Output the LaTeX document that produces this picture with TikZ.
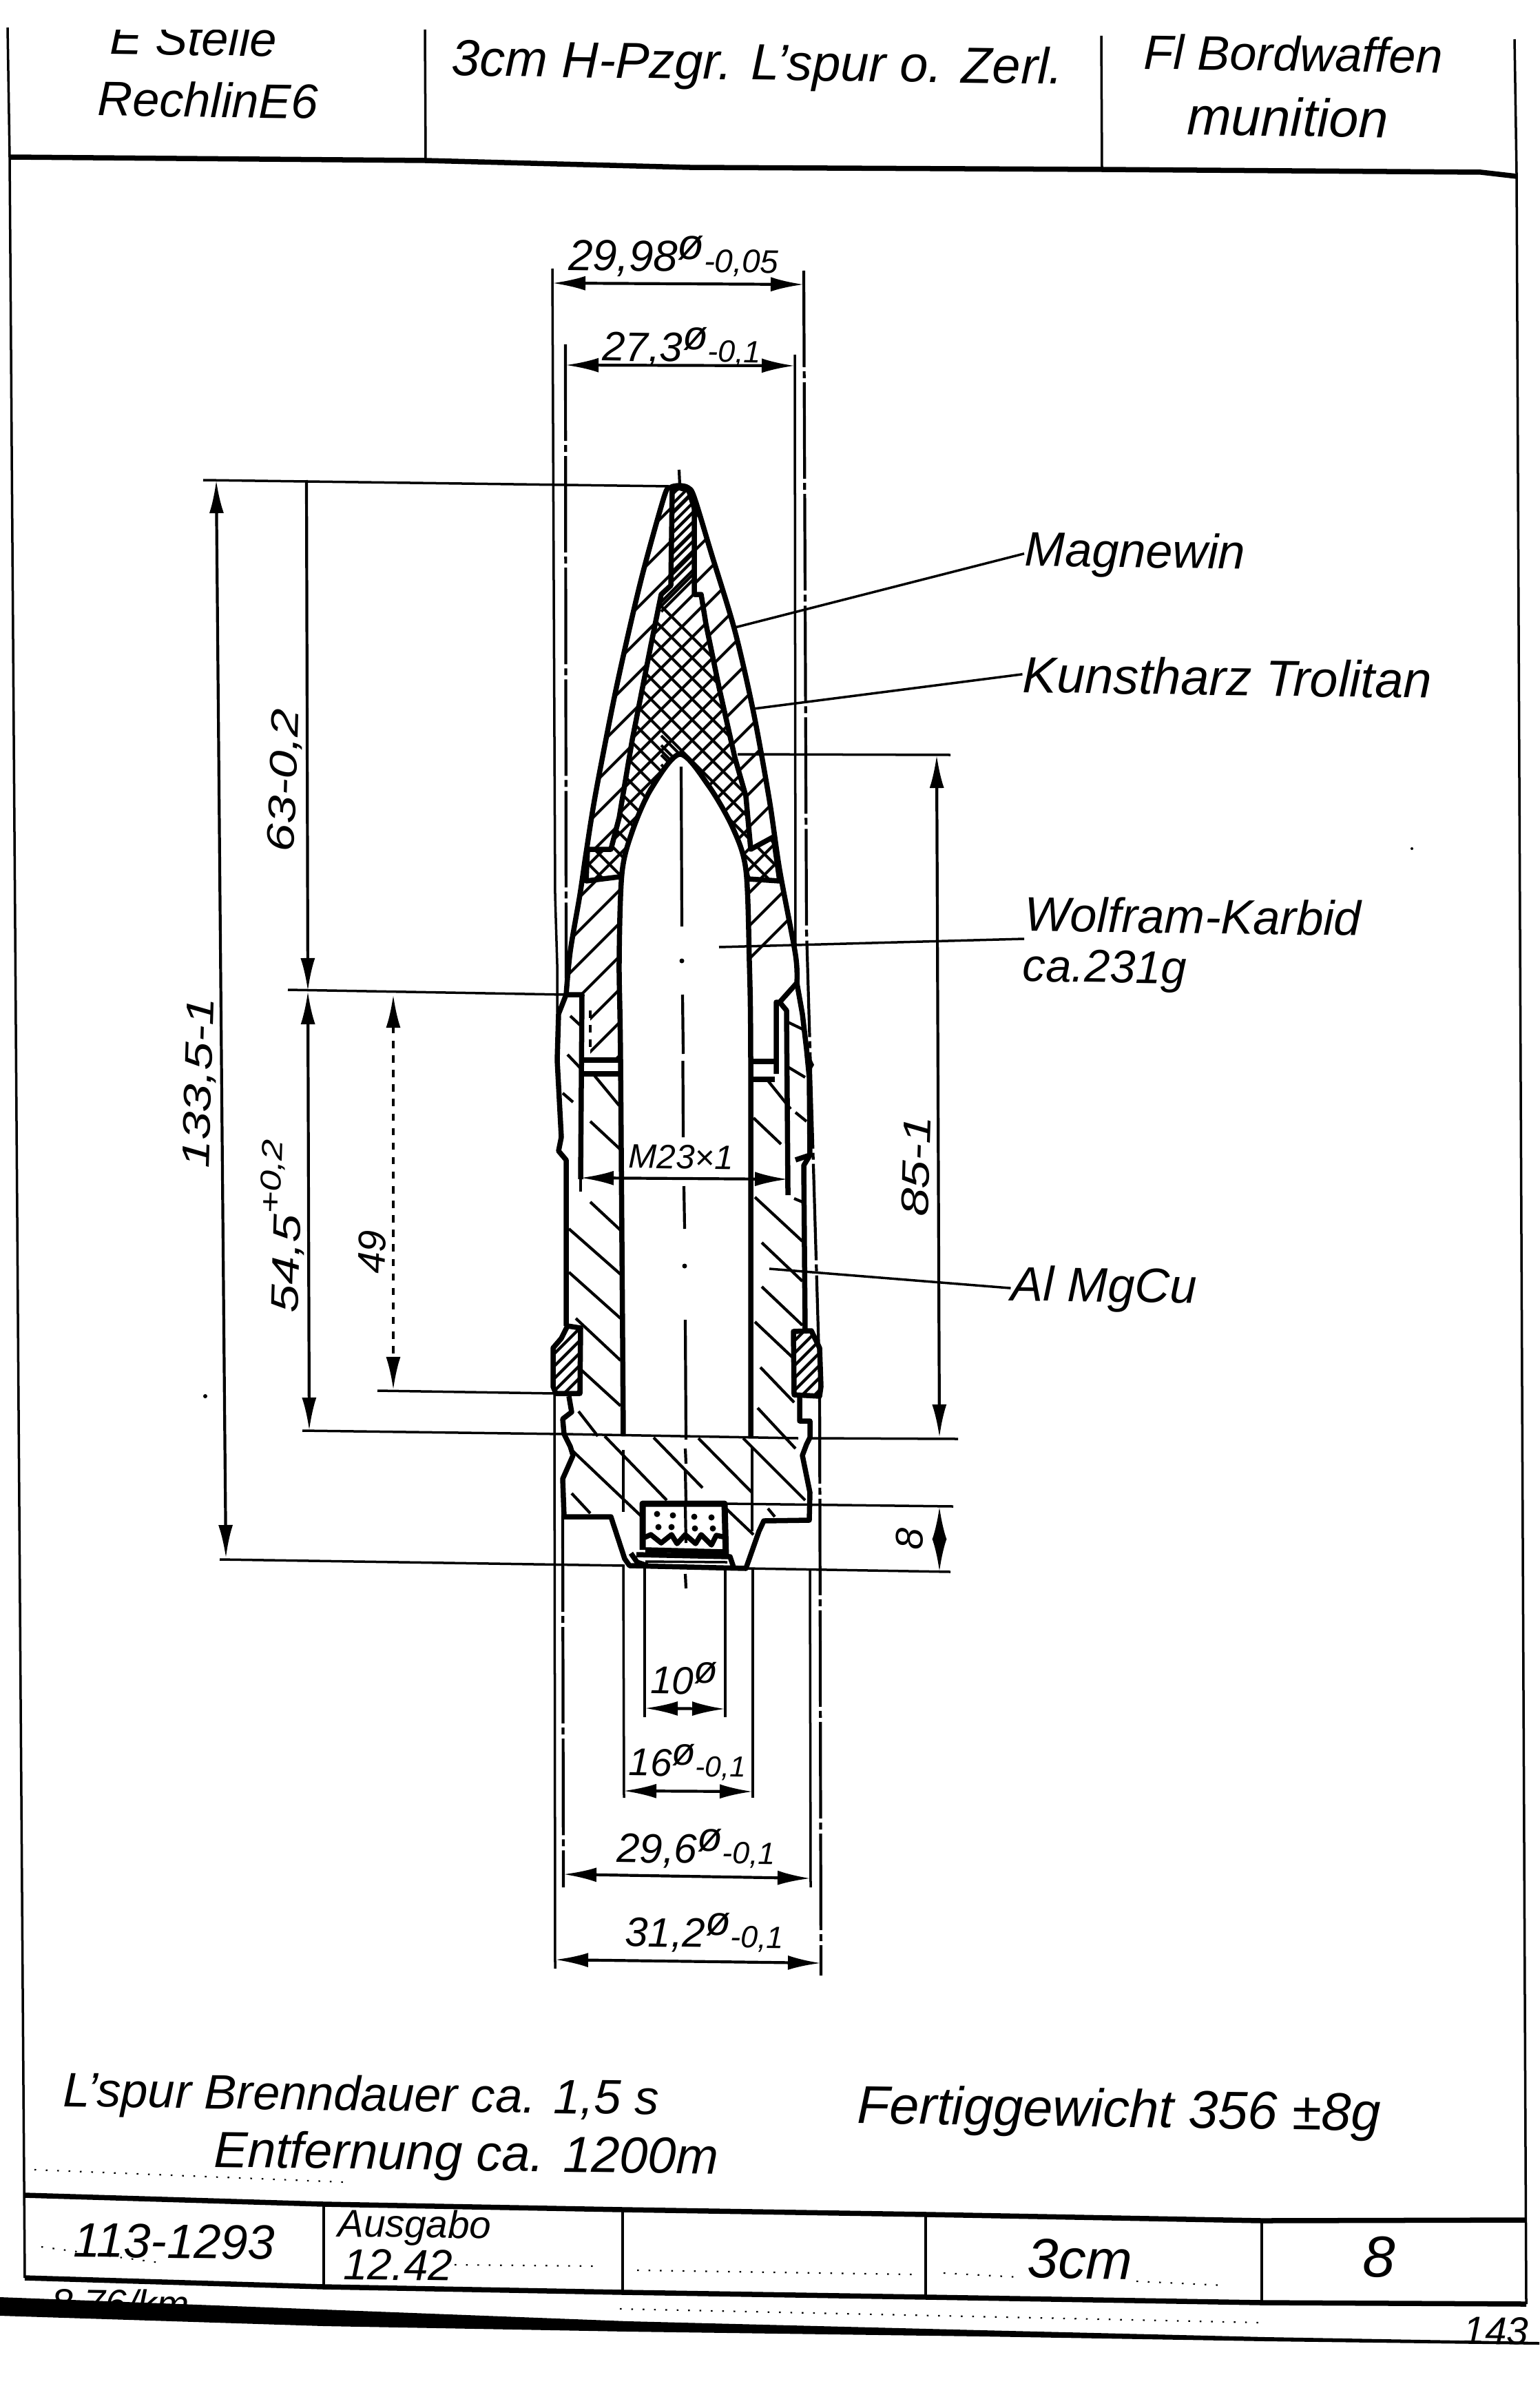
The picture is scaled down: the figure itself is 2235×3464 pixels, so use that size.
\documentclass[tikz,border=0pt]{standalone}
\usepackage{fontspec}
\setmainfont{Liberation Sans}
\usetikzlibrary{arrows.meta}
\usetikzlibrary{positioning}
\tikzset{
	outline/.style={draw=black, line width=0.75mm, line join=round},
	thinline/.style={draw=black, line width=0.35mm},
	hatch/.style={draw=black, line width=0.42mm},
	chain/.style={draw=black, line width=0.42mm, dash pattern=on 14mm off 0.6mm on 1mm off 0.6mm},
	dim/.style={draw=black, line width=0.42mm, {Latex[length=4.8mm,width=2.1mm]}-{Latex[length=4.8mm,width=2.1mm]}},
	dimto/.style={draw=black, line width=0.42mm, -{Latex[length=4.8mm,width=2.1mm]}},
	speck/.style={draw=black, line width=0.22mm, dash pattern=on 0.25mm off 1.4mm},
	lettering/.style={inner sep=0pt, text=black, rotate=-0.8, font=\itshape\fontsize{20}{22}\selectfont},
	dimtext/.style={lettering, font=\itshape\fontsize{16}{18}\selectfont},
	sidetext/.style={dimtext, rotate=89},
}
\newcommand{\dia}{\raisebox{0.55ex}{ø}}
\newcommand{\tol}[1]{\scalebox{0.75}{#1}}
\newcommand{\widetext}[1]{\scalebox{1.3}[1]{#1}}
\def\nosepath{plot[smooth] coordinates {(822,1444) (828,1381) (842,1299) (851,1238) (865,1151) (895,998) (930,845) (964,722) (973,708) (986,705) (999,708) (1008,722) (1033,804) (1067,916) (1094,1034) (1117,1161) (1132,1263) (1155,1386) (1157,1427)}}
\def\fillerpath{(960,863) -- (945,937) -- (918,1074) -- (899,1187) -- (887,1233) -- (853,1233) -- (851,1279) -- (899,1273) -- (903,1268) -- (918,1207) -- (945,1146) -- (987,1095) -- (1029,1141) -- (1064,1202) -- (1083,1263) -- (1086,1276) -- (1132,1279) -- (1123,1215) -- (1090,1233) -- (1083,1156) -- (1067,1100) -- (1044,998) -- (1025,906) -- (1018,863) -- (1008,863) -- (1008,738) -- (1000,712) -- (986,708) -- (976,712) -- (974,850) -- cycle}
\begin{document}
\begin{tikzpicture}[x=0.01cm,y=-0.01cm]
	\useasboundingbox[fill=white] (0,0) rectangle (2235,3464);
	% Header text
	\node[lettering] (stelle) at (281,55) {E Stelle};
	\node[lettering] (rechlin) at (302,145) {RechlinE6};
	\node[lettering, font=\itshape\fontsize{21}{23}\selectfont] (title) at (1100,97) {3cm H-Pzgr. L'spur o. Zerl.};
	\node[lettering] (bordwaffen) at (1878,78) {Fl Bordwaffen};
	\node[lettering, font=\itshape\fontsize{22}{24}\selectfont] (munition) at (1870,170) {munition};
	\fill[white] (0,0) rectangle (2235,43);
	% Frame
	\draw[thinline] (11,40) -- (14,228) -- (36,3307);
	\draw[thinline] (2199,57) -- (2202,253) -- (2216,3345);
	\draw[thinline] (617,43) -- (618,233);
	\draw[thinline] (1599,52) -- (1600,246);
	\draw[outline] (14,228) -- (617,233) -- (1000,243) -- (1599,246) -- (2150,250) -- (2202,256);
	% Title block
	\draw[outline] (36,3187) -- (470,3200) -- (905,3208) -- (1347,3215) -- (1832,3224) -- (2216,3223);
	\draw[outline] (36,3307) -- (470,3320) -- (905,3328) -- (1347,3335) -- (1832,3343) -- (2216,3345);
	\foreach \xa/\ya/\yb in {470/3200/3320, 904/3208/3328, 1344/3215/3335, 1832/3224/3343}
		\draw[thinline] (\xa,\ya) -- (\xa,\yb);
	\node[lettering] (number) at (253,3254) {113-1293};
	\node[lettering, font=\itshape\fontsize{16}{18}\selectfont] (ausgabe) at (602,3234) {Ausgabo};
	\node[lettering, font=\itshape\fontsize{18}{20}\selectfont] (datum) at (578,3288) {12.42};
	\node[lettering, font=\itshape\fontsize{23}{25}\selectfont] (caliber) at (1568,3280) {3cm};
	\node[lettering, font=\itshape\fontsize{24}{26}\selectfont] (sheet) at (2002,3277) {8};
	% Bottom edge
	\node[dimtext] (stamp) at (175,3344) {8.76/km};
	\fill[black] (0,3335) -- (470,3353) -- (912,3370) -- (1425,3383) -- (1838,3393) -- (2235,3400) -- (2235,3404) -- (1838,3399) -- (1425,3392) -- (912,3385) -- (470,3377) -- (0,3362) -- cycle;
	\node[dimtext] (pagemark) at (2172,3384) {143};
	% Specks
	\draw[speck] (50,3150) -- (500,3168);
	\draw[speck] (660,3288) -- (870,3290);
	\draw[speck] (925,3296) -- (1330,3302);
	\draw[speck] (1370,3300) -- (1480,3306);
	\draw[speck] (1650,3312) -- (1780,3318);
	\draw[speck] (900,3352) -- (1830,3372);
	\draw[speck] (60,3262) -- (240,3286);
	\fill (298,2027) circle [radius=3];
	\fill (2050,1232) circle [radius=2];
	% Extension lines
	\draw[thinline] (802,390) -- (806,1300) -- (809,1400) -- (809,1470);
	\draw[thinline] (1154,515) -- (1155,1386);
	\draw[chain] (821,500) -- (822,1420);
	\draw[chain] (1167,393) -- (1171,1350) -- (1190,2000) -- (1192,2868);
	\draw[thinline] (805,2023) -- (806,2858);
	\draw[chain] (817,2200) -- (818,2740);
	\draw[thinline] (1176,2280) -- (1177,2740);
	\draw[thinline] (905,2273) -- (906,2610);
	\draw[thinline] (936,2273) -- (936,2493);
	\draw[thinline] (1053,2275) -- (1053,2493);
	\draw[thinline] (1093,2277) -- (1093,2610);
	\draw[thinline] (905,2105) -- (905,2195);
	\draw[thinline] (1092,2100) -- (1092,2223);
	% Centre line
	\foreach \xa/\ya/\yb in {986/682/705, 991/1444/1651, 993/1722/1784, 995/1916/2090, 995/2103/2125, 995/2135/2180, 995/2186/2240, 995/2285/2306}
		\draw[hatch] (\xa,\ya) -- (\xa+1,\yb);
	\fill (994,1838) circle [radius=3.5];
	% Nose hatching
	\begin{scope}
		\clip \nosepath -- (1132,1455) -- (1127,1539) -- (857,1539) -- (857,1444) -- cycle;
		\foreach \c in {1664,1712,...,2500}
			\draw[hatch] (700,\c-700) -- (1200,\c-1200);
	\end{scope}
	% Filler
	\fill[white] \fillerpath;
	\begin{scope}
		\clip \fillerpath;
		\foreach \c in {1600,1630,...,2500}
			\draw[hatch] (700,\c-700) -- (1200,\c-1200);
		\foreach \c in {-1000,-970,...,100}
			\draw[hatch] (600,600-\c) -- (1300,1300-\c);
		\foreach \c in {1680,1694,...,1860}
			\draw[hatch] (960,\c-960) -- (1020,\c-1020);
		\foreach \c in {-290,-276,...,-100}
			\draw[hatch] (960,960-\c) -- (1020,1020-\c);
	\end{scope}
	\draw[outline] \fillerpath;
	% Core
	\fill[white] plot[smooth] coordinates {(899,1396) (903,1268) (918,1207) (945,1146) (987,1095) (1029,1141) (1064,1202) (1083,1263) (1088,1396)} -- (1090,1540) -- (901,1540) -- cycle;
	\draw[outline] plot[smooth] coordinates {(905,2085) (901,1540) (899,1396) (903,1268) (918,1207) (945,1146) (987,1095) (1029,1141) (1064,1202) (1083,1263) (1088,1396) (1090,1540) (1090,2085)};
	\draw[hatch] (989,1113) -- (990,1345);
	\fill (990,1395) circle [radius=3.5];
	\draw[hatch] (991,1444) -- (992,1530);
	% Nose outline
	\draw[outline] \nosepath -- (1132,1455) -- (1127,1455) -- (1127,1559);
	\draw[outline] (822,1444) -- (845,1444) -- (843,1712);
	\draw[thinline] (843,1712) -- (843,1730);
	\draw[outline] (1132,1455) -- (1142,1467) -- (1144,1727) -- (1144,1735);
	\draw[outline] (845,1539) -- (901,1539);
	\draw[outline] (845,1559) -- (901,1559);
	\draw[outline] (1090,1541) -- (1125,1541);
	\draw[outline] (1090,1567) -- (1125,1567);
	\draw[thinline, dashed] (857,1467) -- (857,1523);
	% Body outline
	\draw[outline] (822,1444) -- (811,1472) -- (809,1539) -- (815,1651) -- (811,1671) -- (822,1684) -- (822,1925);
	\draw[outline] (1157,1427) -- (1165,1472) -- (1171,1523) -- (1175,1564) -- (1176,1677) -- (1167,1692) -- (1169,1932);
	\fill (1171,1523) -- (1182,1546) -- (1174,1560) -- cycle;
	\draw[outline] (1155,1684) -- (1176,1677);
	\draw[outline] (826,2027) -- (830,2050) -- (817,2060) -- (819,2082) -- (828,2100) -- (832,2113) -- (817,2147) -- (819,2202) -- (887,2202) -- (907,2263) -- (914,2273) -- (1083,2277) -- (1102,2223) -- (1109,2208) -- (1175,2207) -- (1176,2167) -- (1165,2113) -- (1171,2097) -- (1176,2087) -- (1176,2063) -- (1161,2063) -- (1161,2027);
	% Body hatching
	\foreach \xa/\ya/\xb/\yb in {857/1628/901/1669, 857/1745/901/1786, 826/1784/901/1850, 826/1847/901/1914, 836/1914/901/1975, 843/1988/901/2041, 840/2049/868/2085, 861/1559/899/1605, 824/1531/843/1551, 817/1587/832/1600, 828/1475/842/1488, 1094/1623/1134/1661, 1096/1738/1165/1802, 1106/1804/1165/1860, 1106/1868/1165/1924, 1096/1919/1150/1970, 1104/1985/1153/2036, 1100/2044/1155/2103, 1115/1569/1148/1610, 1144/1549/1169/1564, 1155/1615/1171/1628, 1153/1740/1165/1745, 1142/1483/1167/1495, 878/2085/968/2178, 949/2087/1020/2160, 1014/2088/1092/2167, 1079/2088/1169/2178, 832/2107/933/2203, 830/2168/857/2197, 1054/2190/1094/2228, 1115/2190/1125/2202}
		\draw[hatch] (\xa,\ya) -- (\xb,\yb);
	% Driving bands
	\begin{scope}
		\clip (843,1928) -- (824,1925) -- (815,1943) -- (803,1957) -- (803,2013) -- (807,2023) -- (842,2023) -- cycle;
		\foreach \c in {2752,2770,...,2880}
			\draw[hatch] (790,\c-790) -- (850,\c-850);
	\end{scope}
	\draw[outline] (843,1928) -- (824,1925) -- (815,1943) -- (803,1957) -- (803,2013) -- (807,2023) -- (842,2023) -- cycle;
	\begin{scope}
		\clip (1152,1933) -- (1178,1932) -- (1190,1957) -- (1192,2013) -- (1190,2027) -- (1153,2025) -- cycle;
		\foreach \c in {3100,3118,...,3230}
			\draw[hatch] (1140,\c-1140) -- (1200,\c-1200);
	\end{scope}
	\draw[outline] (1152,1933) -- (1178,1932) -- (1190,1957) -- (1192,2013) -- (1190,2027) -- (1153,2025) -- cycle;
	% Tracer cup
	\draw[outline, line width=0.9mm] (933,2250) -- (933,2183) -- (1052,2183) -- (1054,2260);
	\foreach \xa/\ya in {954/2198, 977/2200, 1008/2202, 1033/2203, 956/2217, 975/2217, 1009/2219, 1035/2219}
		\fill (\xa,\ya) circle [radius=4.5];
	\draw[outline] (936,2232) -- (945,2228) -- (960,2240) -- (975,2228) -- (983,2241) -- (995,2228) -- (1010,2241) -- (1018,2228) -- (1033,2243) -- (1040,2229) -- (1054,2232);
	\draw[outline] (937,2250) -- (1052,2253);
	\draw[outline] (916,2255) -- (925,2268) -- (940,2273);
	\draw[outline] (924,2257) -- (1060,2260) -- (1065,2275);
	\draw[thinline] (937,2267) -- (1056,2268);
	% Dimension base lines
	\draw[thinline] (295,697) -- (971,706);
	\draw[thinline] (418,1437) -- (820,1444);
	\draw[thinline] (548,2019) -- (805,2023);
	\draw[thinline] (439,2077) -- (819,2082) -- (1159,2088);
	\draw[thinline] (1176,2088) -- (1391,2089);
	\draw[thinline] (319,2264) -- (907,2273);
	\draw[thinline] (1083,2277) -- (1380,2282);
	\draw[thinline] (1052,2183) -- (1384,2187);
	\draw[thinline] (1071,1095) -- (1380,1096);
	% Dimensions
	\draw[dim] (802,411) -- (1167,413);
	\draw[dim] (821,530) -- (1154,531);
	\draw[dim] (314,697) -- (328,2262);
	\draw[dimto] (445,697) -- (447,1439);
	\draw[dim] (447,1439) -- (449,2077);
	\draw[dim, dashed] (571,1444) -- (571,2018);
	\draw[dim] (1360,1096) -- (1364,2087);
	\draw[dim] (1364,2187) -- (1364,2282);
	\draw[dim] (843,1710) -- (1144,1712);
	\draw[dim] (936,2480) -- (1053,2481);
	\draw[dim] (905,2600) -- (1093,2601);
	\draw[dim] (818,2721) -- (1177,2727);
	\draw[dim] (806,2845) -- (1192,2850);
	% Dimension labels
	\node[dimtext, font=\itshape\fontsize{18}{20}\selectfont] (dimouter) at (978,372) {29,98\dia\tol{-0,05}};
	\node[dimtext, font=\itshape\fontsize{17}{19}\selectfont] (dimnose) at (990,504) {27,3\dia\tol{-0,1}};
	\node[sidetext] (dimtotal) at (291,1572) {\widetext{133,5-1}};
	\node[sidetext] (dimogive) at (414,1133) {\widetext{63-0,2}};
	\node[sidetext] (dimbody) at (410,1780) {\widetext{54,5\raisebox{1ex}{\tol{+0,2}}}};
	\node[sidetext] (dimband) at (540,1818) {49};
	\node[sidetext] (dimcore) at (1330,1693) {\widetext{85-1}};
	\node[sidetext] (dimcup) at (1321,2234) {8};
	\node[dimtext, font=\itshape\fontsize{14}{16}\selectfont] (dimthread) at (989,1680) {M23×1};
	\node[dimtext] (dimten) at (993,2436) {10\dia};
	\node[dimtext] (dimsixteen) at (998,2558) {16\dia\tol{-0,1}};
	\node[dimtext, font=\itshape\fontsize{17}{19}\selectfont] (dimbase) at (1011,2684) {29,6\dia\tol{-0,1}};
	\node[dimtext, font=\itshape\fontsize{17}{19}\selectfont] (dimrim) at (1023,2806) {31,2\dia\tol{-0,1}};
	% Material labels
	\node[lettering] (magnewin) at (1648,806) {Magnewin};
	\node[lettering, font=\itshape\fontsize{21}{23}\selectfont] (kunstharz) at (1782,983) {Kunstharz Trolitan};
	\node[lettering] (wolfram) at (1732,1330) {Wolfram-Karbid};
	\node[lettering, font=\itshape\fontsize{19}{21}\selectfont] (gewicht) at (1604,1410) {ca.231g};
	\node[lettering] (almgcu) at (1603,1872) {Al MgCu};
	\coordinate (magend) at (1067,911);
	\coordinate (kunstend) at (1094,1029);
	\coordinate (wolfend) at (1044,1375);
	\coordinate (alend) at (1117,1842);
	\draw[thinline] (magnewin.west) -- (magend);
	\draw[thinline] (kunstharz.west) -- (kunstend);
	\draw[thinline] (wolfram.west |- 0,1363) -- (wolfend);
	\draw[thinline] (almgcu.west) -- (alend);
	% Notes
	\node[lettering] (brenndauer) at (524,3046) {L'spur Brenndauer ca. 1,5 s};
	\node[lettering, font=\itshape\fontsize{21}{23}\selectfont] (entfernung) at (677,3132) {Entfernung ca. 1200m};
	\node[lettering, font=\itshape\fontsize{22}{24}\selectfont] (fertig) at (1625,3068) {Fertiggewicht 356 ±8g};
\end{tikzpicture}
\end{document}
